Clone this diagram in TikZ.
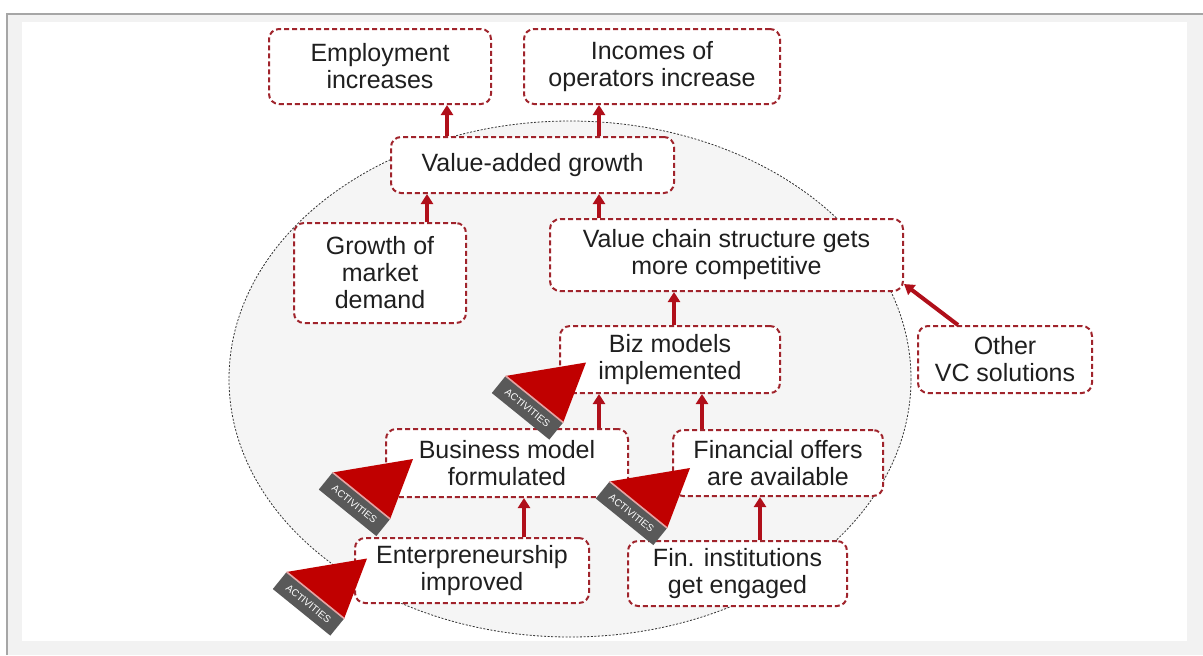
\documentclass[tikz,border=0pt]{standalone}
\usepackage{fontspec}
\setmainfont{Liberation Sans}
\usetikzlibrary{arrows.meta}
\definecolor{boxred}{HTML}{A0242C}
\definecolor{arrowred}{HTML}{B00F1A}
\definecolor{actred}{HTML}{C00000}
\definecolor{actgray}{HTML}{595959}
\definecolor{actline}{HTML}{E6A3A3}
\definecolor{ellfill}{HTML}{F5F5F5}
\definecolor{framegray}{HTML}{F2F2F2}
\definecolor{linegray}{HTML}{A6A6A6}
\definecolor{textblack}{HTML}{1F1F1F}
\tikzset{
  box/.style={draw=boxred, line width=1pt, dash pattern=on 2.5pt off 1.5pt,
    rounded corners=5pt, fill=white, align=center, inner sep=0pt,
    text=textblack, font=\fontsize{12.5}{13.5}\selectfont},
  flow/.style={draw=arrowred, line width=2pt, -{Triangle[width=6pt,length=5pt]}},
  activities/.pic={
    \fill[actred] (0,0) -- (-54,61) -- (20,61) -- cycle;
    \fill[actgray] (-54,61) rectangle (20,83);
    \draw[actline, line width=0.8pt] (-54,61) -- (20,61);
    \node[transform shape, text=white, inner sep=0pt, font=\fontsize{5}{6}\selectfont] at (-17,72) {ACTIVITIES};
  }
}
\begin{document}
\begin{tikzpicture}[x=0.5pt,y=-0.5pt]
\useasboundingbox (0,0) rectangle (1203,655);
% Pozadí a rámeček
\fill[white] (0,0) rectangle (1203,655);
\fill[framegray] (7,14) rectangle (1203,655);
\draw[linegray, line width=1pt] (7,655) -- (7,14) -- (1203,14);
\fill[white] (22,22) rectangle (1187,641);
% Elipsa
\filldraw[fill=ellfill, draw=black!80, line width=0.4pt, dash pattern=on 1pt off 0.8pt]
  (570,379) ellipse [x radius=341, y radius=258];
% Boxy
\node[box, minimum width=111pt, minimum height=37.5pt] (emp) at (380,66.5) {Employment\\increases};
\node[box, minimum width=128pt, minimum height=37.5pt] (inc) at (652,66.5) {Incomes of\\operators increase};
\node[box, minimum width=141.5pt, minimum height=28pt] (vag) at (532.5,165) {Value-added growth};
\node[box, minimum width=86pt, minimum height=50pt] (mkt) at (380,273) {Growth of\\market\\demand};
\node[box, minimum width=176.5pt, minimum height=36pt] (vcs) at (726.5,255) {Value chain structure gets\\more competitive};
\node[box, minimum width=110pt, minimum height=33.5pt] (biz) at (670,359.5) {Biz models\\implemented};
\node[box, minimum width=87pt, minimum height=33.5pt] (oth) at (1005,359.5) {Other\\VC solutions};
\node[box, minimum width=121pt, minimum height=34pt] (bmf) at (507,463) {Business model\\formulated};
\node[box, minimum width=105pt, minimum height=33pt] (fin) at (778,463) {Financial offers\\are available};
\node[box, minimum width=117pt, minimum height=32.5pt] (ent) at (472,570.5) {Enterpreneurship\\improved};
\node[box, minimum width=109.5pt, minimum height=32.5pt] (fii) at (737.5,573.5) {Fin. institutions\\get engaged};
% Šipky
\foreach \s/\t/\x in {vag/emp/447, vag/inc/599, mkt/vag/427, vcs/vag/599, biz/vcs/674,
    bmf/biz/599, fin/biz/702, ent/bmf/524, fii/fin/760}
  \draw[flow] (\s.north -| \x,0) -- (\t.south -| \x,0);
\draw[flow] (oth.north -| 958,0) -- ([yshift=4pt]vcs.south east);
% Aktivity
\foreach \b/\dx/\dy in {biz/27/3, bmf/28/-4, fin/18/5, ent/13/-12}
  \pic[rotate=-39] at ([shift={(\dx,\dy)}]\b.west) {activities};
\end{tikzpicture}
\end{document}
